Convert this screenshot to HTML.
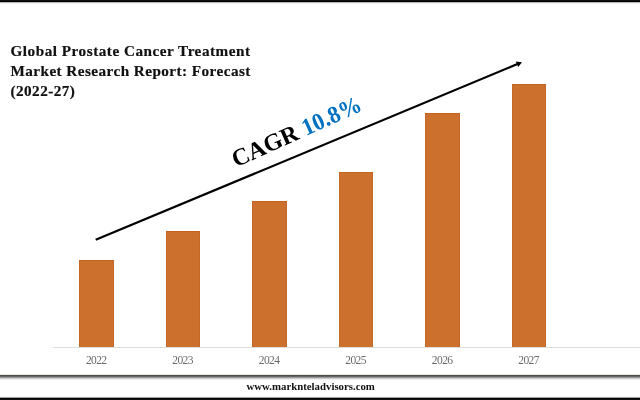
<!DOCTYPE html>
<html><head><meta charset="utf-8">
<style>
html,body{margin:0;padding:0;background:#fff;}
body{width:640px;height:400px;position:relative;overflow:hidden;will-change:transform;font-family:"Liberation Serif",serif;}
.topbar{position:absolute;left:0;top:0;width:640px;height:4px;background:linear-gradient(#111 0px,#111 1px,#000 1px,#000 2px,#b8b8b8 2px,#b8b8b8 3px,#f2f2f2 3px,#f2f2f2 4px);}
.title{position:absolute;left:10.5px;top:40.5px;font-weight:bold;font-size:15.2px;line-height:20px;letter-spacing:0.45px;color:#111;-webkit-text-stroke:0.2px #111;white-space:nowrap;}
.bar{position:absolute;background:#CC702E;box-sizing:border-box;border-top:1px solid #C5611F;border-left:1px solid #C66628;border-right:1px solid #C66628;}
.axis{position:absolute;left:53px;top:347px;width:587px;height:1px;background:#dcdedc;}
.lbl{position:absolute;top:352.7px;width:60px;text-align:center;font-size:11.5px;line-height:14px;letter-spacing:-0.6px;text-indent:-0.6px;color:#6a6a6a;}
.shadow{position:absolute;left:0;top:374px;width:640px;height:6px;background:linear-gradient(#ece8e0 0px,#ece8e0 1px,#4d4d4d 1px,#4d4d4d 2px,#666666 2px,#666666 3px,#9a9a9a 3px,#9a9a9a 4px,#cdcdcd 4px,#cdcdcd 5px,#efefef 5px,#efefef 6px);}
.url{position:absolute;left:246.5px;top:380px;font-size:10.8px;line-height:12px;font-weight:bold;color:#111;white-space:nowrap;}
.botbar{position:absolute;left:0;top:396px;width:640px;height:4px;background:linear-gradient(#f4f4f4 0px,#f4f4f4 1px,#a8a8a8 1px,#a8a8a8 2px,#000 2px,#000 3px,#111 3px,#111 4px);}
</style></head>
<body>
<div class="topbar"></div>
<div class="title"><span style="letter-spacing:0.52px">Global Prostate Cancer Treatment</span><br>Market Research Report: Forecast<br>(2022-27)</div>

<div class="bar" style="left:79.1px;top:259.6px;width:34.80px;height:87.40px"></div>
<div class="bar" style="left:165.9px;top:230.8px;width:34.00px;height:116.20px"></div>
<div class="bar" style="left:252.0px;top:201px;width:34.80px;height:146.00px"></div>
<div class="bar" style="left:338.6px;top:172px;width:34.50px;height:175.00px"></div>
<div class="bar" style="left:425.0px;top:113.1px;width:34.90px;height:233.90px"></div>
<div class="bar" style="left:511.6px;top:83.9px;width:34.65px;height:263.10px"></div>
<div class="axis"></div>

<div class="lbl" style="left:66.50px">2022</div>
<div class="lbl" style="left:152.90px">2023</div>
<div class="lbl" style="left:239.40px">2024</div>
<div class="lbl" style="left:325.85px">2025</div>
<div class="lbl" style="left:412.45px">2026</div>
<div class="lbl" style="left:498.92px">2027</div>

<svg style="position:absolute;left:0;top:0" width="640" height="400">
<line x1="95.7" y1="239.8" x2="518" y2="63.8" stroke="#000" stroke-width="2.2"/>
<polygon points="522,62.2 515.8,61.4 518.2,66.9" fill="#000"/>
</svg>

<svg style="position:absolute;left:0;top:0" width="640" height="400"><text transform="translate(236,167.6) rotate(-24.3)" font-family="Liberation Serif" font-weight="bold" font-size="24" fill="#000">CAGR <tspan fill="#0070C0" textLength="63" lengthAdjust="spacingAndGlyphs">10.8%</tspan></text></svg>

<div class="shadow"></div>
<div class="url">www.marknteladvisors.com</div>
<div class="botbar"></div>
</body></html>
